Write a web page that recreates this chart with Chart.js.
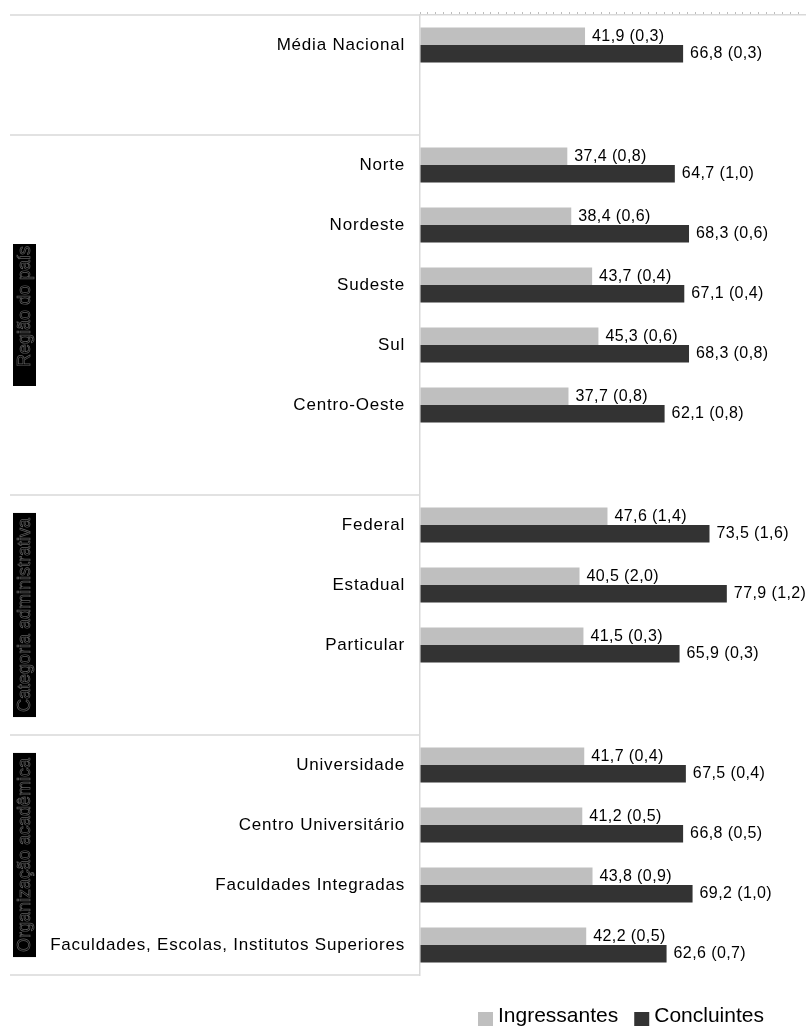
<!DOCTYPE html>
<html><head><meta charset="utf-8">
<script src="https://cdn.jsdelivr.net/npm/chart.js@4/dist/chart.umd.min.js"></script>
<style>html,body{margin:0;padding:0;background:#fff}#wrap{position:relative;width:806px;height:1026px}</style>
</head><body><div id="wrap"><canvas id="c"></canvas></div>
<script>
// ---- data ----
const national = ['Média Nacional'];
const regions = ['Norte', 'Nordeste', 'Sudeste', 'Sul', 'Centro-Oeste'];
const adminCats = ['Federal', 'Estadual', 'Particular'];
const academicOrgs = ['Universidade', 'Centro Universitário', 'Faculdades Integradas', 'Faculdades, Escolas, Institutos Superiores'];
const groupTitles = ['Região do país', 'Categoria administrativa', 'Organização acadêmica'];
const seriesNames = ['Ingressantes', 'Concluintes'];
const ingressantes   = [41.9, 37.4, 38.4, 43.7, 45.3, 37.7, 47.6, 40.5, 41.5, 41.7, 41.2, 43.8, 42.2];
const ingressantesSE = [0.3, 0.8, 0.6, 0.4, 0.6, 0.8, 1.4, 2.0, 0.3, 0.4, 0.5, 0.9, 0.5];
const concluintes    = [66.8, 64.7, 68.3, 67.1, 68.3, 62.1, 73.5, 77.9, 65.9, 67.5, 66.8, 69.2, 62.6];
const concluintesSE  = [0.3, 1.0, 0.6, 0.4, 0.8, 0.8, 1.6, 1.2, 0.3, 0.4, 0.5, 1.0, 0.7];
const xMax = 98;
const xStep = 2;

// ---- build table ----
const sections = [national, regions, adminCats, academicOrgs];
const labels = [], ingData = [], conData = [], ingErr = [], conErr = [];
const spans = [];
let k = 0;
sections.forEach((sec, si) => {
  const start = labels.length;
  sec.forEach(name => {
    labels.push(name);
    ingData.push(ingressantes[k]); conData.push(concluintes[k]);
    ingErr.push(ingressantesSE[k]); conErr.push(concluintesSE[k]);
    k++;
  });
  if (si < sections.length - 1) {
    labels.push(''); ingData.push(null); conData.push(null); ingErr.push(null); conErr.push(null);
  }
  if (si > 0) spans.push({start: start, end: labels.length - 1, title: groupTitles[si - 1]});
});
const errs = [ingErr, conErr];
const colors = ['#bfbfbf', '#333333'];
const fmt = v => v.toFixed(1).replace('.', ',');
const FONT = '"Liberation Sans", Arial, sans-serif';

const decor = {
  id: 'decor',
  beforeDraw(chart) { chart.ctx.letterSpacing = '0.8px'; },
  afterDraw(chart) {
    const ctx = chart.ctx, y = chart.scales.y, a = chart.chartArea;
    const half = (y.getPixelForValue(1) - y.getPixelForValue(0)) / 2;
    ctx.save();
    ctx.letterSpacing = '0px';
    // separators
    ctx.strokeStyle = '#d9d9d9'; ctx.lineWidth = 1.5;
    const bounds = [a.top].concat(spans.map(s => y.getPixelForValue(s.start) - half)).concat([a.bottom]);
    bounds.forEach(b => { ctx.beginPath(); ctx.moveTo(10, b); ctx.lineTo(a.left, b); ctx.stroke(); });
    // group title boxes
    ctx.font = '18px ' + FONT;
    spans.forEach(s => {
      const top = y.getPixelForValue(s.start) - half, bot = y.getPixelForValue(s.end) + half;
      const c = (top + bot) / 2;
      const tw = ctx.measureText(s.title).width;
      const L = Math.max(tw + 10, 142);
      const bTop = c - L / 2;
      ctx.fillStyle = '#000';
      ctx.fillRect(13, bTop, 23, L);
      const textEnd = (L === tw + 10) ? bTop + 5 : bTop + 2;
      ctx.save();
      ctx.translate(25, textEnd);
      ctx.rotate(-Math.PI / 2);
      ctx.textAlign = 'right'; ctx.textBaseline = 'middle';
      ctx.strokeStyle = '#5e5e5e'; ctx.lineWidth = 0.7;
      ctx.strokeText(s.title, 0, 0);
      ctx.restore();
    });
    // data labels
    ctx.font = '16px ' + FONT;
    ctx.letterSpacing = '0.4px';
    ctx.fillStyle = '#000'; ctx.textAlign = 'left'; ctx.textBaseline = 'middle';
    chart.data.datasets.forEach((ds, di) => {
      chart.getDatasetMeta(di).data.forEach((el, j) => {
        const v = ds.data[j];
        if (v === null || v === undefined) return;
        ctx.fillText(fmt(v) + ' (' + fmt(errs[di][j]) + ')', el.x + 7, el.y);
      });
    });
    // legend
    ctx.letterSpacing = '0px';
    ctx.font = '21px ' + FONT;
    ctx.textBaseline = 'alphabetic';
    let x = a.left + 58;
    seriesNames.forEach((n, i) => {
      ctx.fillStyle = colors[i];
      ctx.fillRect(x, 1012, 15, 14);
      ctx.fillStyle = '#000';
      ctx.fillText(n, x + 20, 1022);
      x += 20 + ctx.measureText(n).width + 16;
    });
    ctx.restore();
  }
};

new Chart(document.getElementById('c'), {
  type: 'bar',
  data: {
    labels: labels,
    datasets: [
      {label: seriesNames[0], data: ingData, backgroundColor: colors[0], borderWidth: 0},
      {label: seriesNames[1], data: conData, backgroundColor: colors[1], borderWidth: 0}
    ]
  },
  options: {
    indexAxis: 'y',
    responsive: true,
    maintainAspectRatio: false,
    animation: false,
    categoryPercentage: 0.583,
    barPercentage: 1,
    layout: {padding: {left: 0, right: 0, top: 0, bottom: 51}},
    plugins: {legend: {display: false}, tooltip: {enabled: false}},
    scales: {
      x: {
        position: 'top', min: 0, max: xMax,
        ticks: {display: false, stepSize: xStep, autoSkip: false},
        grid: {drawOnChartArea: false, drawTicks: true, tickLength: 3, color: '#bdbdbd', lineWidth: 1},
        border: {display: true, color: '#d9d9d9', width: 1.5},
        afterFit(s) { s.height = 15; s.paddingLeft = 0; s.paddingRight = 0; }
      },
      y: {
        ticks: {font: {family: FONT, size: 17}, color: '#000', padding: 15, autoSkip: false},
        grid: {display: false, drawTicks: false},
        border: {display: true, color: '#d9d9d9', width: 1.5},
        afterFit(s) { s.width = 420; s.paddingTop = 0; s.paddingBottom = 0; }
      }
    }
  },
  plugins: [decor]
});
</script></body></html>
